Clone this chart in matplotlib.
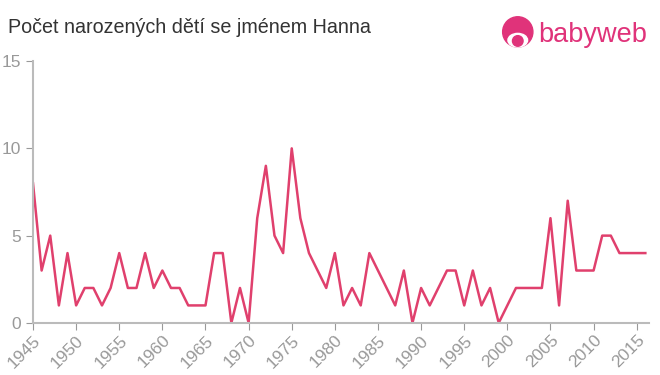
import matplotlib.pyplot as plt
from matplotlib.patches import Circle, Ellipse

years = list(range(1945, 2017))
counts = [8, 3, 5, 1, 4, 1, 2, 2, 1, 2,
          4, 2, 2, 4, 2, 3, 2, 2, 1, 1,
          1, 4, 4, 0, 2, 0, 6, 9, 5, 4,
          10, 6, 4, 3, 2, 4, 1, 2, 1, 4,
          3, 2, 1, 3, 0, 2, 1, 2, 3, 3,
          1, 3, 1, 2, 0, 1, 2, 2, 2, 2,
          6, 1, 7, 3, 3, 3, 5, 5, 4, 4,
          4, 4]
xticks = list(range(1945, 2020, 5))
yticks = [0, 5, 10, 15]

plt.rcParams["font.family"] = ["Liberation Sans", "DejaVu Sans"]

fig = plt.figure(figsize=(6.6, 3.75), dpi=100)
ax = fig.add_axes([0.05, 0.139, 0.933, 0.698])

ax.plot(years, counts, color="#e0406d", linewidth=1.8)

ax.set_xlim(1945, 2016.4)
ax.set_ylim(0, 15)
ax.set_xticks(xticks)
ax.set_yticks(yticks)
ax.tick_params(axis="x", labelrotation=45, labelsize=12.5, colors="#999999", length=5, pad=2)
ax.tick_params(axis="y", labelsize=12.5, colors="#999999", length=5)
for lbl in ax.get_xticklabels():
    lbl.set_ha("right")
    lbl.set_rotation_mode("anchor")
for s in ["top", "right"]:
    ax.spines[s].set_visible(False)
for s in ["left", "bottom"]:
    ax.spines[s].set_color("#bbbbbb")
    ax.spines[s].set_linewidth(1.5)

fig.text(0.012, 0.912, "Počet narozených dětí se jménem Hanna", fontsize=14.2, color="#333333")

# logo
pink = "#e0337a"
lax = fig.add_axes([0.757, 0.83, 0.055, 0.17])
lax.set_xlim(-1.2, 1.2)
lax.set_ylim(-1.2, 1.2)
lax.set_aspect("equal")
lax.axis("off")
lax.add_patch(Circle((0, 0), 1.0, color=pink))
lax.add_patch(Ellipse((0, -0.55), 1.3, 0.9, color="white"))
lax.add_patch(Circle((0, -0.6), 0.35, color=pink))
fig.text(0.815, 0.908, "babyweb", fontsize=19.5, color=pink, va="center")

fig.savefig("out.png")
